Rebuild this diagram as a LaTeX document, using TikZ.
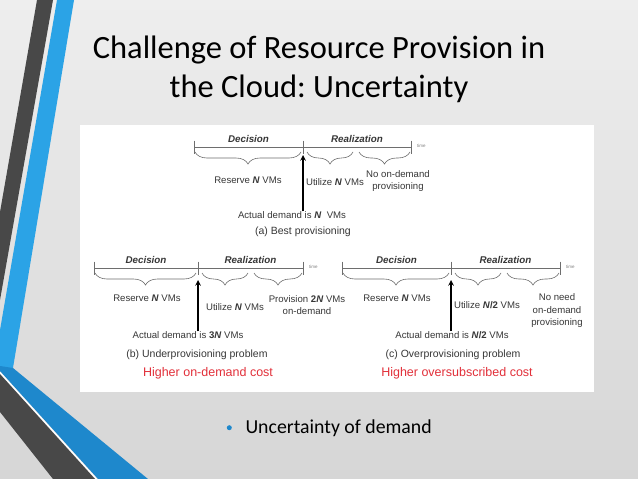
\documentclass[tikz,border=0pt]{standalone}
\usepackage{fontspec}
\setmainfont{Carlito}
\newfontfamily\arial{Liberation Sans}
\usetikzlibrary{arrows,decorations.pathreplacing,positioning}
\definecolor{bgtop}{RGB}{238,238,238}
\definecolor{bgbot}{RGB}{214,214,214}
\definecolor{stripedark}{RGB}{72,72,72}
\definecolor{stripeblue}{RGB}{43,163,230}
\definecolor{stripedeep}{RGB}{30,136,204}
\definecolor{txtgray}{RGB}{55,55,55}
\definecolor{linegray}{RGB}{110,110,110}
\definecolor{costred}{RGB}{226,48,58}
\frenchspacing
\newcommand{\NN}{\textbf{\textit{N}}}
% time axis with ticks, phase names and braces: #1 name, #2 left, #3 middle, #4 right, #5 height
\newcommand{\timeline}[5]{%
  \draw[axis] (#2,#5) coordinate (#1l) -- (#4,#5) coordinate (#1r); % time axis
  \foreach \tx in {#2,#3,#4} \draw[axis] (\tx,#5-6.5) -- (\tx,#5+6.5); % ticks
  \node (#1dec) [phase] at ({(#2+#3)/2},#5-8) {Decision};
  \node (#1rea) [phase] at ({(#3+#4)/2},#5-8) {Realization};
  \node (#1time) [tick label] at (#4+6,#5-1) {time};
  \draw[brc] (#2+1,#5+5) -- (#3-2,#5+5);   % brace decision
  \draw[brc] (#3+4,#5+5) -- (#3+50,#5+5);  % brace utilize
  \draw[brc] (#3+56,#5+5) -- (#4-1,#5+5);  % brace on-demand
}

\begin{document}
\begin{tikzpicture}[x=1pt,y=-1pt,
  axis/.style={draw=linegray, line width=0.7pt},
  brc/.style={draw=linegray, line width=0.6pt, decorate, decoration={brace,mirror,amplitude=12pt}},
  lbl/.style={font=\arial\fontsize{9.6}{12.5}\selectfont, text=txtgray, align=center, inner sep=0pt},
  phase/.style={font=\arial\bfseries\itshape\fontsize{9.8}{11}\selectfont, text=txtgray, inner sep=0pt},
  caption/.style={font=\arial\fontsize{10.5}{12}\selectfont, text=txtgray, inner sep=0pt},
  cost/.style={font=\arial\fontsize{12.5}{14}\selectfont, text=costred, inner sep=0pt},
  tick label/.style={font=\arial\fontsize{4.5}{5}\selectfont, text=gray, anchor=west, inner sep=0pt},
  demand/.style={-stealth, line width=1.5pt, draw=black}]
  \useasboundingbox (0,0) rectangle (638,479);

  %Draw slide background
  \shade[top color=bgtop, bottom color=bgbot] (0,0) rectangle (638,479);

  %Draw side stripes
  \fill[stripedark] (37,0) -- (53,0) -- (0,300) -- (0,212) -- cycle;              % upper dark stripe
  \fill[stripeblue] (57,0) -- (74,0) -- (13,368) -- (0,368) -- (0,330) -- cycle;  % upper blue stripe
  \fill[stripedeep] (0,366) -- (13,368) -- (148,479) -- (98,479) -- (0,371) -- cycle; % lower blue stripe
  \fill[stripedark] (0,374) -- (95,479) -- (53,479) -- (0,412) -- cycle;          % lower dark stripe
  \draw[white, line width=1.2pt] (0,372.5) -- (96.5,479);

  %Draw title
  \node (title)  [anchor=base, font=\fontsize{32.5}{38}\selectfont, text=black] at (319,58) {Challenge of Resource Provision in};
  \node (title2) [anchor=base, font=\fontsize{32.5}{38}\selectfont, text=black] at (319,97) {the Cloud: Uncertainty};

  %Draw picture area
  \fill[white] (80,125) rectangle (594,392);

  %Draw (a) best provisioning
  \timeline{a}{194}{303}{411}{147}
  \node (aRes) [lbl] at (248,180) {Reserve \NN\ VMs};
  \node (aUti) [lbl] at (335,182) {Utilize \NN\ VMs};
  \node (aNo)  [lbl] at (398,181) {No on-demand\\provisioning};
  \node (aAct) [lbl] at (292,215) {Actual demand is \NN~ VMs};
  \node (aCap) [caption] at (303,232) {(a) Best provisioning};
  \coordinate (aTip) at (303,155);
  \draw[demand] (aAct.north -| aTip) -- (aTip);

  %Draw (b) underprovisioning
  \timeline{b}{94}{198}{303}{268}
  \node (bRes) [lbl] at (147,298) {Reserve \NN\ VMs};
  \node (bUti) [lbl] at (235,307) {Utilize \NN\ VMs};
  \node (bPro) [lbl] at (307,305) {Provision \textbf{2\textit{N}} VMs\\on-demand};
  \node (bAct) [lbl] at (188,335) {Actual demand is \textbf{3\textit{N}} VMs};
  \node (bCap) [caption] at (197,355) {(b) Underprovisioning problem};
  \node (bCost) [cost] at (208,373) {Higher on-demand cost};
  \coordinate (bTip) at (198,280);
  \draw[demand] (bAct.north -| bTip) -- (bTip);

  %Draw (c) overprovisioning
  \timeline{c}{342}{451}{560}{268}
  \node (cRes) [lbl] at (397,298) {Reserve \NN\ VMs};
  \node (cUti) [lbl] at (487,305) {Utilize \textbf{\textit{N}/2} VMs};
  \node (cNo)  [lbl] at (557,311) {No need\\on-demand\\provisioning};
  \node (cAct) [lbl] at (452,335) {Actual demand is \textbf{\textit{N}/2} VMs};
  \node (cCap) [caption] at (453,355) {(c) Overprovisioning problem};
  \node (cCost) [cost] at (457,373) {Higher oversubscribed cost};
  \coordinate (cTip) at (451,280);
  \draw[demand] (cAct.north -| cTip) -- (cTip);

  %Draw bullet
  \node (bullet) [anchor=base west, font=\fontsize{19.8}{24}\selectfont, text=black] at (242,433) {Uncertainty of demand};
  \node (dot) [circle, fill=stripedeep, inner sep=0pt, minimum size=5pt, left=10pt of bullet.west] {};
\end{tikzpicture}
\end{document}
